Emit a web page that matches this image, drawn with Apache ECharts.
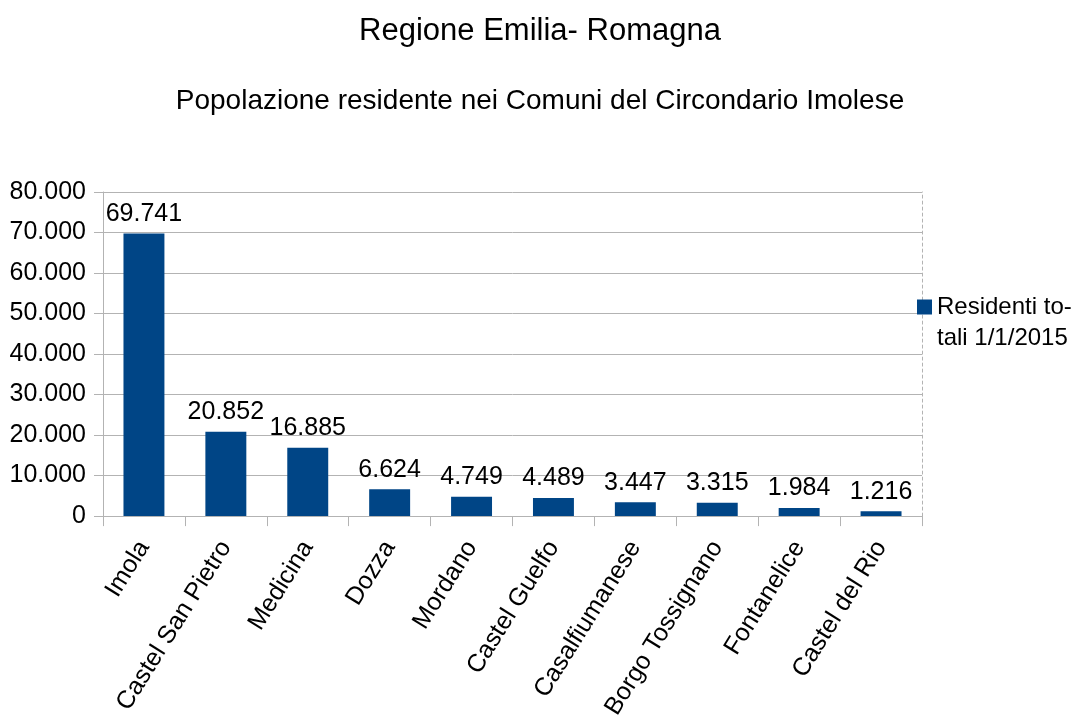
<!DOCTYPE html>
<html><head><meta charset="utf-8">
<script src="https://cdn.jsdelivr.net/npm/echarts@6/dist/echarts.min.js"></script>
<style>html,body{margin:0;padding:0;background:#fff}#c{width:1079px;height:722px}</style>
</head><body><div id="c"></div>
<script>
const categories = ['Imola','Castel San Pietro','Medicina','Dozza','Mordano','Castel Guelfo','Casalfiumanese','Borgo Tossignano','Fontanelice','Castel del Rio'];
const residents = [69741, 20852, 16885, 6624, 4749, 4489, 3447, 3315, 1984, 1216];
const seriesName = 'Residenti to-';
const seriesNameLine2 = 'tali 1/1/2015';
const titleText = 'Regione Emilia- Romagna';
const subtitleText = 'Popolazione residente nei Comuni del Circondario Imolese';

function fmt(v){ return String(v).replace(/\B(?=(\d{3})+(?!\d))/g, '.'); }
const F = '"Liberation Sans", Arial, sans-serif';
const chart = echarts.init(document.getElementById('c'));
chart.setOption({
  animation: false,
  title: [
    {text: titleText, left: 535, textAlign: 'center', top: 11, textStyle:{fontFamily:F, fontSize:31, fontWeight:'normal', color:'#000'}},
    {text: subtitleText, left: 535, textAlign: 'center', top: 82, textStyle:{fontFamily:F, fontSize:28, fontWeight:'normal', color:'#000'}}
  ],
  legend: {
    left: 912, top: 290, itemWidth: 15, itemHeight: 15, icon: 'rect', itemGap: 6,
    textStyle: {fontFamily:F, fontSize:24, color:'#000'},
    data: [seriesName]
  },
  graphic: [{
    type: 'text', left: 937, top: 326,
    style: {text: seriesNameLine2, font: '24px "Liberation Sans", Arial, sans-serif', fill: '#000'}
  }],
  grid: {left: 103, right: 157, top: 192, bottom: 205, containLabel: false},
  xAxis: {
    type: 'category', data: categories,
    axisLine: {lineStyle:{color:'#b3b3b3', width:1}},
    axisTick: {show:true, length:10, lineStyle:{color:'#b3b3b3'}},
    axisLabel: {rotate: 58, interval: 0, margin: 27, fontFamily:F, fontSize:25, color:'#000'}
  },
  yAxis: [{
    type: 'value', min: 0, max: 80000, interval: 10000,
    axisLine: {show:true, lineStyle:{color:'#b3b3b3'}},
    axisTick: {show:true, length:9, lineStyle:{color:'#b3b3b3'}},
    splitLine: {lineStyle:{color:'#b3b3b3', width:1}},
    axisLabel: {margin: 17, fontFamily:F, fontSize:25, color:'#000', formatter: v => fmt(v)}
  },{
    type: 'value', min: 0, max: 80000, interval: 10000, position: 'right',
    axisLine: {show:true, lineStyle:{color:'#b3b3b3', type:[3,3]}},
    axisTick: {show:false}, axisLabel: {show:false}, splitLine: {show:false}
  }],
  series: [{
    name: seriesName, type: 'bar', data: residents, barWidth: '50%',
    itemStyle: {color: '#004586'},
    label: {show: true, position: 'top', distance: 7, fontFamily:F, fontSize:25, color:'#000', formatter: p => fmt(p.value)}
  }]
});
</script></body></html>
